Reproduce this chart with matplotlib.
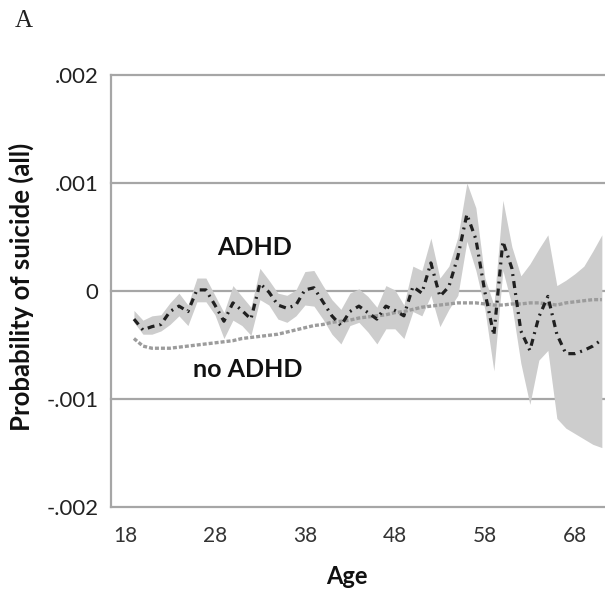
import matplotlib
matplotlib.use("Agg")
import matplotlib.pyplot as plt
import numpy as np

# values in units of 0.001
ages = list(range(19, 72))

adhd = [-0.26, -0.36, -0.33, -0.31, -0.19, -0.14, -0.19, 0.01, 0.01, -0.13,
        -0.28, -0.11, -0.18, -0.26, 0.07, -0.01, -0.13, -0.16, -0.13, 0.01,
        0.03, -0.10, -0.23, -0.32, -0.19, -0.14, -0.20, -0.26, -0.14, -0.18,
        -0.23, 0.04, -0.02, 0.26, -0.05, 0.04, 0.32, 0.71, 0.48, -0.01,
        -0.41, 0.46, 0.21, -0.37, -0.55, -0.24, -0.05, -0.40, -0.58, -0.58,
        -0.55, -0.51, -0.45]

adhd_upper = [-0.18, -0.27, -0.23, -0.22, -0.11, -0.02, -0.13, 0.12, 0.12, -0.04,
              -0.20, 0.05, -0.05, -0.15, 0.21, 0.10, -0.02, -0.04, 0.01, 0.18,
              0.19, 0.05, -0.08, -0.17, -0.02, 0.02, -0.05, -0.15, 0.05, 0.01,
              -0.13, 0.23, 0.19, 0.49, 0.12, 0.23, 0.50, 1.00, 0.77, 0.12,
              -0.13, 0.84, 0.41, 0.14, 0.25, 0.39, 0.52, 0.05, 0.10, 0.16,
              0.23, 0.37, 0.52]

adhd_lower = [-0.29, -0.40, -0.40, -0.37, -0.31, -0.23, -0.32, -0.10, -0.10, -0.22,
              -0.44, -0.27, -0.32, -0.41, -0.08, -0.13, -0.26, -0.29, -0.23, -0.13,
              -0.14, -0.26, -0.40, -0.49, -0.32, -0.29, -0.38, -0.49, -0.35, -0.35,
              -0.44, -0.19, -0.23, -0.04, -0.33, -0.17, -0.04, 0.46, 0.19, -0.17,
              -0.74, 0.19, -0.13, -0.67, -1.05, -0.64, -0.55, -1.18, -1.27, -1.32,
              -1.37, -1.42, -1.45]

no_adhd = [-0.44, -0.51, -0.53, -0.53, -0.53, -0.52, -0.51, -0.50, -0.49, -0.48,
           -0.47, -0.46, -0.44, -0.43, -0.42, -0.41, -0.40, -0.38, -0.36, -0.34,
           -0.32, -0.31, -0.29, -0.28, -0.27, -0.25, -0.24, -0.23, -0.22, -0.20,
           -0.19, -0.17, -0.15, -0.14, -0.13, -0.12, -0.11, -0.11, -0.11, -0.12,
           -0.13, -0.13, -0.12, -0.12, -0.11, -0.11, -0.12, -0.13, -0.11, -0.10,
           -0.09, -0.08, -0.08]

y_ticks = [0.002, 0.001, 0.0, -0.001, -0.002]
y_tick_labels = [".002", ".001", "0", "-.001", "-.002"]
x_ticks = [18, 28, 38, 48, 58, 68]

scale = 0.001
x = np.array(ages)
y_adhd = np.array(adhd) * scale
y_up = np.array(adhd_upper) * scale
y_lo = np.array(adhd_lower) * scale
y_no = np.array(no_adhd) * scale

plt.rcParams["font.family"] = ["Lato", "DejaVu Sans"]

fig = plt.figure(figsize=(6.05, 5.95), dpi=100)
ax = fig.add_axes([111 / 605, 1 - 507 / 595, 1 - 111 / 605, 432 / 595])

grid_color = "#a6a6a6"
for yt in y_ticks:
    ax.axhline(yt, color=grid_color, lw=1.6, zorder=1, clip_on=False)

ax.fill_between(x, y_lo, y_up, color="#cdcdcd", lw=0, zorder=2)
ax.plot(x, y_no, color="#9c9c9c", lw=2.4, ls=(0, (1.2, 0.6)), zorder=3)
ax.plot(x, y_adhd, color="#202020", lw=2.3, ls=(0, (2.2, 1.6, 0.6, 1.6)), zorder=4)

ax.set_xlim(16.45, 71.35)
ax.set_ylim(-0.002, 0.002)
ax.set_yticks(y_ticks)
ax.set_yticklabels(y_tick_labels, fontsize=16, color="#222222")
ax.set_xticks(x_ticks)
ax.set_xticklabels([str(t) for t in x_ticks], fontsize=15, color="#333333")
ax.tick_params(axis="both", length=0)
ax.tick_params(axis="y", pad=9)
ax.tick_params(axis="x", pad=14)

for side in ["top", "right", "bottom"]:
    ax.spines[side].set_visible(False)
ax.spines["left"].set_color(grid_color)
ax.spines["left"].set_linewidth(1.6)

ax.set_xlabel("Age", fontsize=17, fontweight="bold", color="#111111")
ax.xaxis.set_label_coords(0.478, -0.135)
ax.set_ylabel("Probability of suicide (all)", fontsize=18.5, fontweight="bold", color="#111111")
ax.yaxis.set_label_coords(-0.156, 0.509)

ax.text(32.4, 0.00040, "ADHD", fontsize=18, fontweight="bold", ha="center", va="center", color="#111111")
ax.text(31.6, -0.00073, "no ADHD", fontsize=18, fontweight="bold", ha="center", va="center", color="#111111")

fig.text(24 / 605, 1 - 21 / 595, "A", fontsize=18, family="Liberation Serif",
         ha="center", va="center", color="#222222")

fig.savefig("out.png", dpi=100)
